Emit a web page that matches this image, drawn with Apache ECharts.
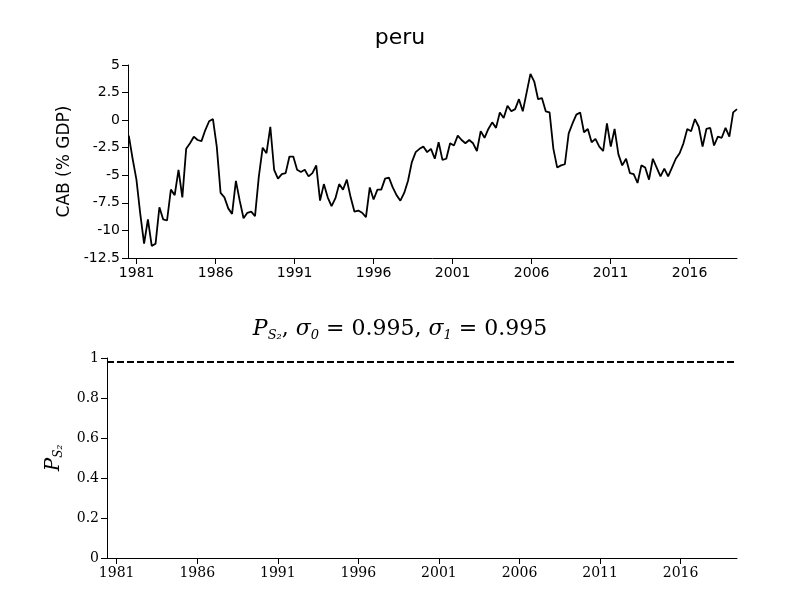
<!DOCTYPE html>
<html>
<head>
<meta charset="UTF-8">
<script src="https://cdn.jsdelivr.net/npm/echarts@6/dist/echarts.min.js"></script>
</head>
<body style="margin:0">
<div id="main" style="width:800px;height:600px;"></div>
<script type="text/javascript">
// quarterly current account balance, % of GDP
var cab = [
  -1.4, -3.5, -5.4, -8.5, -11.2, -9.0, -11.4, -11.2, -7.9, -9.0, -9.1, -6.3, -6.8, -4.5, -7.0, -2.6,
  -2.1, -1.5, -1.8, -1.9, -0.9, -0.1, 0.1, -2.4, -6.6, -7.0, -8.0, -8.5, -5.5, -7.3, -8.9, -8.4,
  -8.3, -8.7, -5.1, -2.5, -3.0, -0.6, -4.5, -5.3, -4.9, -4.8, -3.3, -3.3, -4.5, -4.7, -4.5, -5.1,
  -4.8, -4.1, -7.3, -5.8, -7.0, -7.8, -7.1, -5.8, -6.3, -5.4, -7.0, -8.3, -8.2, -8.4, -8.8, -6.1,
  -7.2, -6.3, -6.3, -5.3, -5.2, -6.1, -6.8, -7.3, -6.6, -5.5, -3.8, -2.9, -2.6, -2.4, -2.9, -2.6,
  -3.5, -2.0, -3.6, -3.5, -2.1, -2.3, -1.4, -1.8, -2.1, -1.8, -2.1, -2.8, -1.0, -1.6, -0.8, -0.2,
  -0.7, 0.7, 0.2, 1.3, 0.8, 1.0, 1.9, 0.8, 2.5, 4.2, 3.5, 1.9, 2.0, 0.8, 0.7, -2.6,
  -4.3, -4.1, -4.0, -1.2, -0.3, 0.5, 0.7, -1.1, -0.8, -2.0, -1.7, -2.4, -2.8, -0.3, -2.4, -0.8,
  -3.1, -4.1, -3.5, -4.8, -4.9, -5.7, -4.1, -4.3, -5.4, -3.5, -4.3, -5.1, -4.4, -5.1, -4.3, -3.5,
  -3.0, -2.1, -0.8, -1.0, 0.1, -0.6, -2.4, -0.8, -0.7, -2.3, -1.5, -1.6, -0.7, -1.5, 0.7, 1.0
];
var startYear = 1980.5;
var endYear = 2019.0;
var yearTicks = [1981, 1986, 1991, 1996, 2001, 2006, 2011, 2016];
var probLevel = [0.98, 0.98];
var probYears = [1980.4, 2019.5];

var step = (endYear - startYear) / (cab.length - 1);
var cabData = cab.map(function (v, i) { return [startYear + i * step, v]; });
var probData = probLevel.map(function (v, i) { return [probYears[i], v]; });

var myChart = echarts.init(document.getElementById('main'));
var plain = function (v) { return String(v); };
var sansLabel = { color: '#000', fontFamily: 'DejaVu Sans', fontSize: 14 };
var serifLabel = { color: '#000', fontFamily: 'DejaVu Serif', fontSize: 14 };
var axLine = { show: true, onZero: false, lineStyle: { color: '#000', width: 1 } };
var option = {
  animation: false,
  title: [{
    text: 'peru', left: 'center', top: 22,
    textStyle: { fontFamily: 'DejaVu Sans', fontSize: 22, fontWeight: 'normal', color: '#000' }
  }, {
    text: '{i|P}{s|S₂}{n|, }{i|σ}{s|0}{n| = 0.995, }{i|σ}{s|1}{n| = 0.995}',
    left: 'center', top: 312,
    textStyle: {
      fontWeight: 'normal',
      rich: {
        i: { fontFamily: 'DejaVu Serif', fontStyle: 'italic', fontWeight: 'normal', fontSize: 22, color: '#000' },
        s: { fontFamily: 'DejaVu Serif', fontStyle: 'italic', fontWeight: 'normal', fontSize: 13, color: '#000', verticalAlign: 'bottom', padding: [12, 0, 0, 0] },
        n: { fontFamily: 'DejaVu Serif', fontWeight: 'normal', fontSize: 22, color: '#000' }
      }
    }
  }],
  grid: [
    { left: 128, right: 63, top: 65, height: 193 },
    { left: 107, right: 63, top: 358, height: 200 }
  ],
  xAxis: [{
    gridIndex: 0, type: 'value', min: startYear - 0.05, max: endYear,
    axisLine: axLine, splitLine: { show: false },
    axisTick: { customValues: yearTicks, length: 6, lineStyle: { color: '#000' } },
    axisLabel: Object.assign({ customValues: yearTicks, formatter: plain }, sansLabel)
  }, {
    gridIndex: 1, type: 'value', min: probYears[0], max: probYears[1],
    axisLine: axLine, splitLine: { show: false },
    axisTick: { customValues: yearTicks, length: 6, lineStyle: { color: '#000' } },
    axisLabel: Object.assign({ customValues: yearTicks, formatter: plain }, serifLabel)
  }],
  yAxis: [{
    gridIndex: 0, type: 'value', min: -12.5, max: 5, interval: 2.5,
    name: 'CAB (% GDP)', nameLocation: 'middle', nameGap: 50,
    nameTextStyle: { fontFamily: 'DejaVu Sans', fontSize: 17, color: '#000' },
    axisLine: axLine, splitLine: { show: false },
    axisTick: { show: true, length: 6, lineStyle: { color: '#000' } },
    axisLabel: sansLabel
  }, {
    gridIndex: 1, type: 'value', min: 0, max: 1, interval: 0.2,
    name: '{i|P}{s|S₂}', nameLocation: 'middle', nameGap: 42,
    nameTextStyle: {
      rich: {
        i: { fontFamily: 'DejaVu Serif', fontStyle: 'italic', fontSize: 20, color: '#000' },
        s: { fontFamily: 'DejaVu Serif', fontStyle: 'italic', fontSize: 12, color: '#000', padding: [10, 0, 0, 0] }
      }
    },
    axisLine: axLine, splitLine: { show: false },
    axisTick: { show: true, length: 6, lineStyle: { color: '#000' } },
    axisLabel: serifLabel
  }],
  series: [{
    type: 'line', xAxisIndex: 0, yAxisIndex: 0, data: cabData,
    symbol: 'none', lineStyle: { color: '#000', width: 1.8 }
  }, {
    type: 'line', xAxisIndex: 1, yAxisIndex: 1, data: probData,
    symbol: 'none', lineStyle: { color: '#000', width: 1.8, type: [7, 3] }
  }]
};
myChart.setOption(option);
</script>
</body>
</html>
